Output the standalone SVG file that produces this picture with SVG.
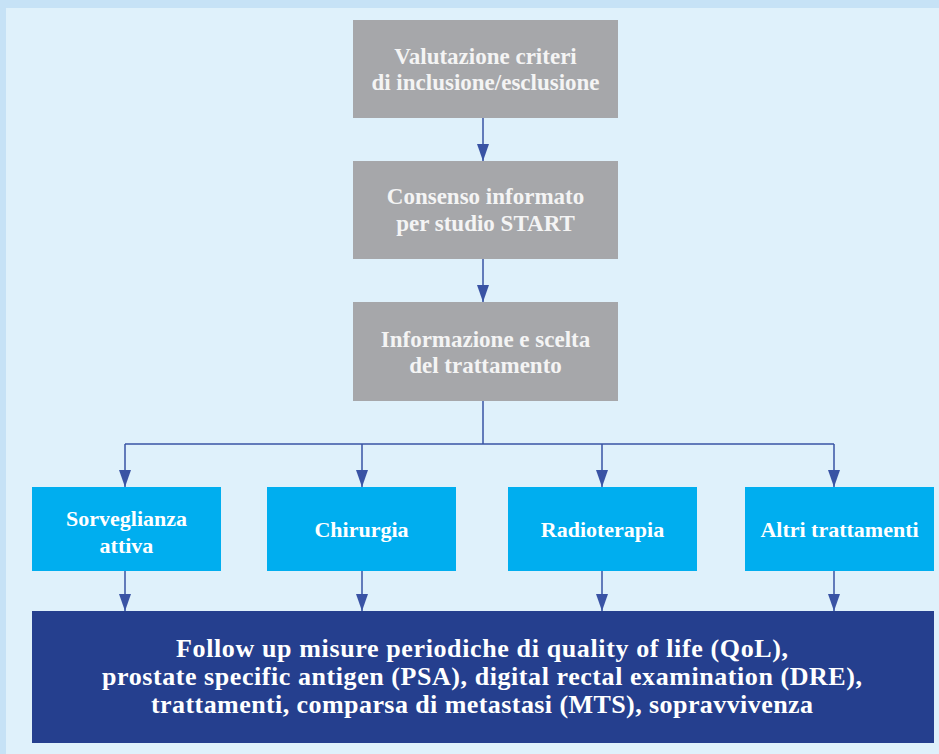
<svg xmlns="http://www.w3.org/2000/svg" width="939" height="754" viewBox="0 0 939 754">
<style>
.gray{fill:#a6a7aa}
.cyan{fill:#00aeef}
.navy{fill:#253f8e}
.t{font-family:"Liberation Serif","Times New Roman",serif;font-weight:bold;text-anchor:middle}
.tg{fill:#f4f4f4;font-size:23px}
.tc{fill:#ffffff;font-size:22px}
.tn{fill:#ffffff;font-size:26px}
.c{fill:none;stroke:#3953a4;stroke-width:1.5}
</style>
<defs>
<marker id="ah" markerUnits="userSpaceOnUse" markerWidth="17" markerHeight="12" viewBox="0 0 17 12" refX="17" refY="6" orient="auto">
<path d="M0,0 L17,6 L0,12 z" fill="#3953a4"/>
</marker>
</defs>
<rect x="0" y="0" width="939" height="754" fill="#c6e2f6"/>
<rect x="6" y="8" width="933" height="746" fill="#dff1fb"/>
<g id="connectors">
<line class="c" x1="483" y1="118" x2="483" y2="161" marker-end="url(#ah)"/>
<line class="c" x1="483" y1="259" x2="483" y2="302" marker-end="url(#ah)"/>
<polyline class="c" points="483,401 483,444"/>
<polyline class="c" points="125,444 834,444"/>
<line class="c" x1="125" y1="444" x2="125" y2="487" marker-end="url(#ah)"/>
<line class="c" x1="362" y1="444" x2="362" y2="487" marker-end="url(#ah)"/>
<line class="c" x1="602" y1="444" x2="602" y2="487" marker-end="url(#ah)"/>
<line class="c" x1="834" y1="444" x2="834" y2="487" marker-end="url(#ah)"/>
<line class="c" x1="125" y1="571" x2="125" y2="611" marker-end="url(#ah)"/>
<line class="c" x1="362" y1="571" x2="362" y2="611" marker-end="url(#ah)"/>
<line class="c" x1="602" y1="571" x2="602" y2="611" marker-end="url(#ah)"/>
<line class="c" x1="834" y1="571" x2="834" y2="611" marker-end="url(#ah)"/>
</g>
<g id="n1">
<rect class="gray" x="353" y="20" width="265" height="98"/>
<text class="t tg" x="485.5" y="64">Valutazione criteri</text>
<text class="t tg" x="485.5" y="90">di inclusione/esclusione</text>
</g>
<g id="n2">
<rect class="gray" x="353" y="161" width="265" height="98"/>
<text class="t tg" x="485.5" y="204">Consenso informato</text>
<text class="t tg" x="485.5" y="231">per studio START</text>
</g>
<g id="n3">
<rect class="gray" x="353" y="302" width="265" height="99"/>
<text class="t tg" x="485.5" y="347">Informazione e scelta</text>
<text class="t tg" x="485.5" y="373">del trattamento</text>
</g>
<g id="n4">
<rect class="cyan" x="32" y="487" width="189" height="84"/>
<text class="t tc" x="126.5" y="526">Sorveglianza</text>
<text class="t tc" x="126.5" y="553">attiva</text>
</g>
<g id="n5">
<rect class="cyan" x="267" y="487" width="189" height="84"/>
<text class="t tc" x="361.5" y="537">Chirurgia</text>
</g>
<g id="n6">
<rect class="cyan" x="508" y="487" width="189" height="84"/>
<text class="t tc" x="602.5" y="537">Radioterapia</text>
</g>
<g id="n7">
<rect class="cyan" x="745" y="487" width="189" height="84"/>
<text class="t tc" x="839.5" y="537">Altri trattamenti</text>
</g>
<g id="n8">
<rect class="navy" x="32" y="611" width="902" height="132"/>
<text class="t tn" x="482" y="657" textLength="612" lengthAdjust="spacing">Follow up misure periodiche di quality of life (QoL),</text>
<text class="t tn" x="482" y="685" textLength="760" lengthAdjust="spacing">prostate specific antigen (PSA), digital rectal examination (DRE),</text>
<text class="t tn" x="482" y="713" textLength="662" lengthAdjust="spacing">trattamenti, comparsa di metastasi (MTS), sopravvivenza</text>
</g>
</svg>
